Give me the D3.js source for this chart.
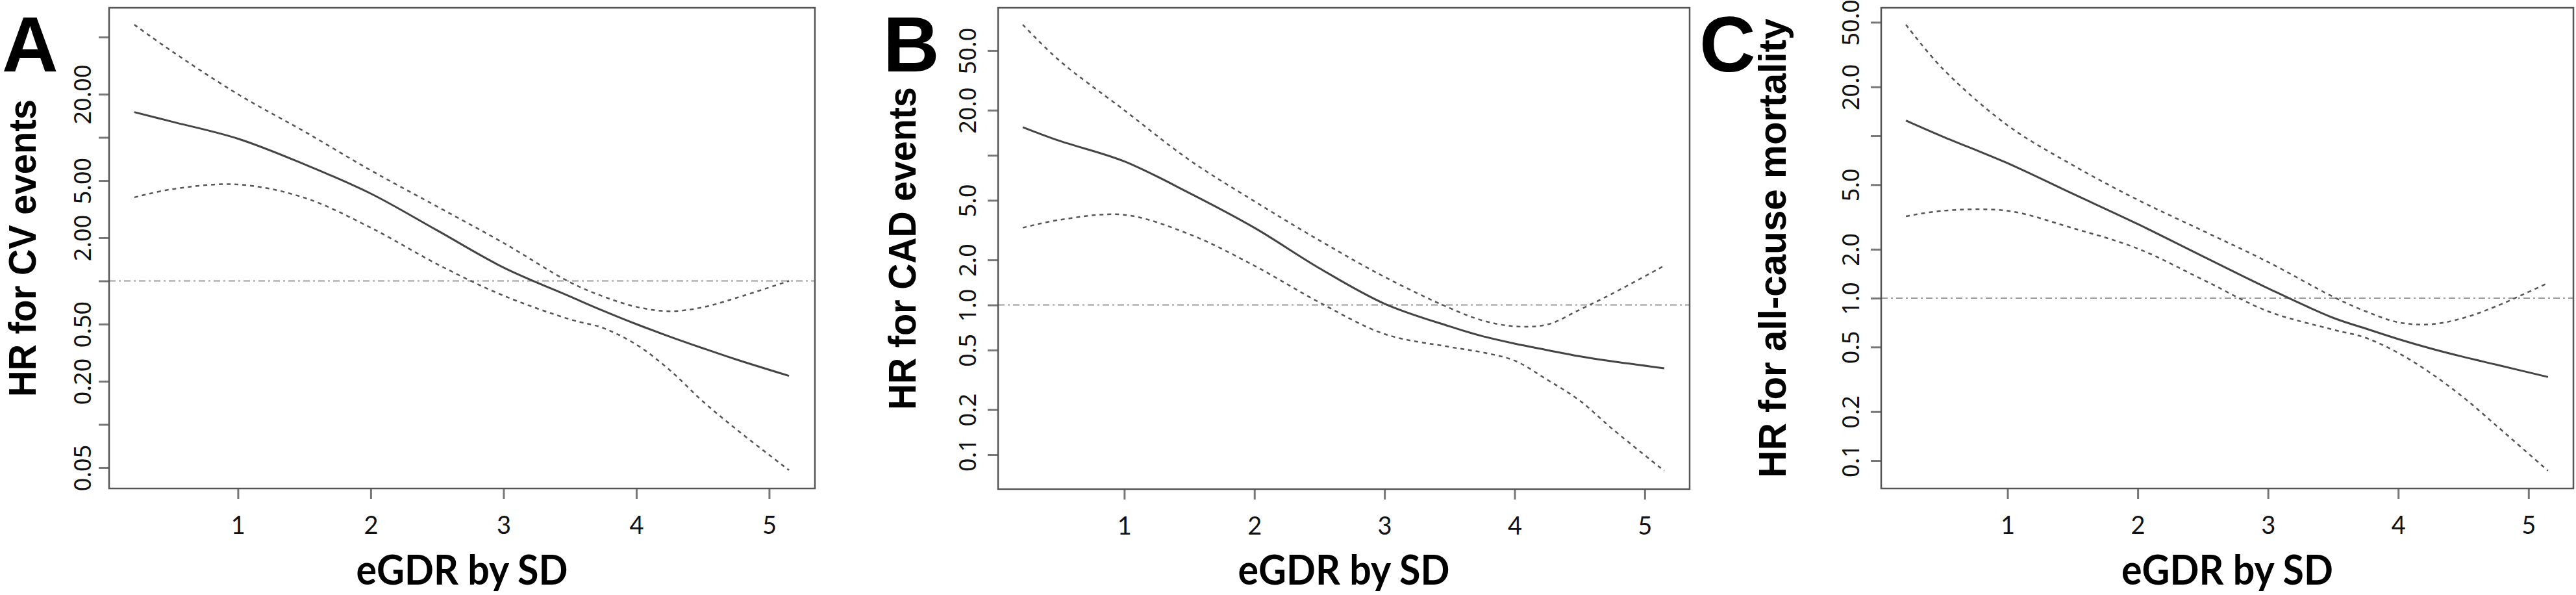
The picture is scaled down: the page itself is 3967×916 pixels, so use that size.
<!DOCTYPE html>
<html>
<head>
<meta charset="utf-8">
<script src="https://d3js.org/d3.v7.min.js"></script>
<style>
  body { margin: 0; background: #fff; }
  svg { display: block; }
</style>
</head>
<body>
<svg width="3967" height="916"></svg>
<script>
// eGDR grid (SD units) at which the curves were read
const xGrid = [0.22, 0.5, 1, 1.5, 2, 2.5, 3, 3.5, 3.75, 4, 4.25, 4.5, 4.75, 5.15];

// A: CV events
const cvHR    = [15.0, 12.9, 9.8, 6.5, 4.06, 2.25, 1.24, 0.78, 0.62, 0.50, 0.41, 0.34, 0.284, 0.218];
const cvUpper = [61, 40, 20, 11, 5.9, 3.3, 1.84, 0.98, 0.78, 0.66, 0.615, 0.655, 0.76, 1.0];
const cvLower = [3.82, 4.35, 4.7, 3.8, 2.35, 1.31, 0.79, 0.54, 0.47, 0.36, 0.24, 0.145, 0.093, 0.048];

// B: CAD events
const cadHR    = [15.4, 12.5, 9.1, 5.6, 3.28, 1.76, 1.02, 0.72, 0.62, 0.552, 0.50, 0.454, 0.42, 0.378];
const cadUpper = [74.5, 43, 20, 9.3, 4.93, 2.7, 1.54, 0.955, 0.79, 0.72, 0.74, 0.93, 1.19, 1.83];
const cadLower = [3.28, 3.7, 4.0, 2.97, 1.83, 1.04, 0.64, 0.525, 0.483, 0.425, 0.317, 0.23, 0.149, 0.078];

// C: all-cause mortality
const acmHR    = [12.4, 9.9, 6.78, 4.4, 2.86, 1.81, 1.15, 0.757, 0.65, 0.56, 0.49, 0.435, 0.39, 0.327];
const acmUpper = [48.3, 26, 11.6, 6.6, 4.03, 2.6, 1.67, 1.02, 0.83, 0.71, 0.69, 0.755, 0.89, 1.24];
const acmLower = [3.19, 3.45, 3.45, 2.7, 2.02, 1.30, 0.83, 0.64, 0.57, 0.46, 0.345, 0.245, 0.165, 0.0865];

const xTicks = [1, 2, 3, 4, 5];
const yTicksA = [50, 20, 10, 5, 2, 1, 0.5, 0.2, 0.1, 0.05];
const yLabelsA = ['', '20.00', '', '5.00', '2.00', '', '0.50', '0.20', '', '0.05'];
const yTicksBC = [50, 20, 10, 5, 2, 1, 0.5, 0.2, 0.1];
const yLabelsBC = ['50.0', '20.0', '', '5.0', '2.0', '1.0', '0.5', '0.2', '0.1'];

const panels = [
  {letter: 'A', title: 'HR for CV events', hr: cvHR, up: cvUpper, lo: cvLower,
   ticks: yTicksA, labels: yLabelsA,
   left: 168, right: 1255, top: 12, bottom: 752, yDomain: [0.0358, 80],
   letterX: 3, titleX: 55, titleLen: 458, labOff: 28},
  {letter: 'B', title: 'HR for CAD events', hr: cadHR, up: cadUpper, lo: cadLower,
   ticks: yTicksBC, labels: yLabelsBC,
   left: 1537, right: 2602, top: 12, bottom: 753, yDomain: [0.0589, 96.6],
   letterX: 1360, titleX: 1410, titleLen: 497, labOff: 34},
  {letter: 'C', title: 'HR for all-cause mortality', hr: acmHR, up: acmUpper, lo: acmLower,
   ticks: yTicksBC, labels: yLabelsBC,
   left: 2897, right: 3963, top: 12, bottom: 752, yDomain: [0.0673, 61.4],
   letterX: 2617, titleX: 2750, titleLen: 707, labOff: 34}
];

const svg = d3.select('svg');

panels.forEach(p => {
  const x = d3.scaleLinear().domain([0.03, 5.345]).range([p.left, p.right]);
  const y = d3.scaleLog().domain(p.yDomain).range([p.bottom, p.top]);
  const g = svg.append('g');

  // y axis, labels parallel to the axis
  const yAxis = g.append('g')
    .attr('transform', `translate(${p.left},0)`)
    .call(d3.axisLeft(y).tickValues(p.ticks).tickSize(16)
      .tickFormat((d, i) => p.labels[i]));
  yAxis.select('.domain').remove();
  yAxis.selectAll('line').attr('stroke', '#777').attr('stroke-width', 3);
  yAxis.selectAll('text')
    .attr('x', 0).attr('dy', null).attr('y', -p.labOff)
    .attr('transform', 'rotate(-90)')
    .attr('text-anchor', 'middle')
    .attr('fill', '#111')
    .style('font-family', '"Noto Sans", sans-serif')
    .style('font-size', '36px');

  // x axis
  const xAxis = g.append('g')
    .attr('transform', `translate(0,${p.bottom})`)
    .call(d3.axisBottom(x).tickValues(xTicks).tickSize(16).tickFormat(d3.format('d')));
  xAxis.select('.domain').remove();
  xAxis.selectAll('line').attr('stroke', '#777').attr('stroke-width', 3);
  xAxis.selectAll('text')
    .attr('y', 70).attr('dy', null)
    .attr('fill', '#111')
    .style('font-family', 'Lato, sans-serif')
    .style('font-size', '38px');

  // reference line at HR = 1
  g.append('line')
    .attr('x1', p.left).attr('x2', p.right)
    .attr('y1', y(1)).attr('y2', y(1))
    .attr('stroke', '#9a9a9a').attr('stroke-width', 2)
    .attr('stroke-dasharray', '10,5,3,5');

  const line = d3.line()
    .x((d, i) => x(xGrid[i]))
    .y(d => y(d))
    .curve(d3.curveCatmullRom.alpha(0.5));

  [p.up, p.lo].forEach(s => {
    g.append('path').datum(s)
      .attr('d', line)
      .attr('fill', 'none')
      .attr('stroke', '#555')
      .attr('stroke-width', 2.5)
      .attr('stroke-dasharray', '6,6');
  });

  g.append('path').datum(p.hr)
    .attr('d', line)
    .attr('fill', 'none')
    .attr('stroke', '#444')
    .attr('stroke-width', 3);

  // plot box
  g.append('rect')
    .attr('x', p.left).attr('y', p.top)
    .attr('width', p.right - p.left).attr('height', p.bottom - p.top)
    .attr('fill', 'none').attr('stroke', '#555').attr('stroke-width', 2.5);

  // titles
  g.append('text')
    .attr('transform', `translate(${p.titleX},${(p.top + p.bottom) / 2}) rotate(-90)`)
    .attr('text-anchor', 'middle')
    .attr('textLength', p.titleLen)
    .attr('lengthAdjust', 'spacingAndGlyphs')
    .style('font-family', '"Liberation Sans", Arial, sans-serif')
    .style('font-weight', 'bold')
    .style('font-size', '60px')
    .text(p.title);

  g.append('text')
    .attr('x', (p.left + p.right) / 2).attr('y', 900)
    .attr('text-anchor', 'middle')
    .attr('textLength', 326)
    .attr('lengthAdjust', 'spacingAndGlyphs')
    .style('font-family', 'Lato, sans-serif')
    .style('font-weight', 'bold')
    .style('font-size', '64px')
    .text('eGDR by SD');

  g.append('text')
    .attr('x', p.letterX).attr('y', 110)
    .style('font-family', '"Liberation Sans", Arial, sans-serif')
    .style('font-weight', 'bold')
    .style('font-size', '120px')
    .text(p.letter);
});
</script>
</body>
</html>
